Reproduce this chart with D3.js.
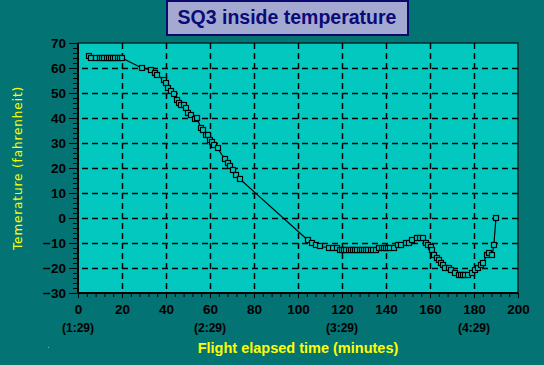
<!DOCTYPE html>
<html>
<head>
<meta charset="utf-8">
<script src="https://cdn.jsdelivr.net/npm/d3@7"></script>
<style>
  body { margin: 0; background: #037373; }
  svg { display: block; }
</style>
</head>
<body>
<script>
// flight elapsed time (minutes) and inside temperature (F)
var minutes = [5, 6, 8, 10, 11, 12, 13, 14, 15, 16, 17, 18, 19, 20,
  29, 33, 35, 36, 39, 40, 41, 42.3, 43.5, 45, 45.8, 46.7, 48, 49.1, 49.8, 51.5, 53.2, 54, 55.9, 56.8, 58.2, 59.3, 60.1, 60.7, 61.9, 63.5, 66.7, 68, 69.2, 70.4, 71.7, 73.7,
  104.4, 106.3, 108.2, 110, 114.3, 116, 117.5, 119, 120, 121, 122, 123, 124, 125, 126, 127, 128, 129, 130, 131, 132, 133, 134, 135.5,
  137, 138, 139, 140, 141, 142, 143.5, 145.5, 147, 149, 150.5, 152, 154, 155.3, 156.7, 158, 159.2, 160.3, 161, 161.8, 163, 164, 165, 166, 167, 168.5, 169.6, 171.4, 173, 174, 175, 176, 177.5,
  179.3, 180.3, 181.8, 183.1, 184.1, 185.9, 186.9, 188.3, 189, 190];
var tempF = [65, 64, 64, 64, 64, 64, 64, 64, 64, 64, 64, 64, 64, 64,
  60, 59.3, 58, 57.2, 55.2, 53.9, 52, 50.9, 49.6, 47.2, 46.1, 45.2, 45.2, 43.9, 42.1, 41.2, 39.4, 40, 36.1, 35.2, 33.3, 33.3, 31.4, 30.5, 29.4, 27.9, 23.5, 22, 21, 19.3, 17.4, 15.5,
  -8.8, -9.9, -10.8, -11.4, -11.9, -11.9, -11.9, -12.8, -12.8, -12.8, -12.8, -12.8, -12.8, -12.8, -12.8, -12.8, -12.8, -12.8, -12.8, -12.8, -12.8, -12.8, -12.8, -12.8,
  -11.9, -11.9, -11.9, -11.9, -11.9, -11.9, -11.9, -10.8, -10.8, -9.9, -9.9, -8.8, -7.9, -7.9, -7.9, -9.9, -10.8, -11.6, -12.8, -14.8, -15.9, -16.8, -17.9, -18.9, -19.9, -19.9, -20.8, -21.9, -22.8, -22.8, -22.8, -22.8, -22.8,
  -21.9, -20.8, -19.9, -18.8, -17.9, -14.8, -14.1, -14.8, -10.8, 0];

var xTicks = [0, 20, 40, 60, 80, 100, 120, 140, 160, 180, 200];
var clockTicks = [[0, "(1:29)"], [60, "(2:29)"], [120, "(3:29)"], [180, "(4:29)"]];
var yTicks = [-30, -20, -10, 0, 10, 20, 30, 40, 50, 60, 70];

var width = 544, height = 365;
var plotFill = "#03c8c0";

var svg = d3.select("body").append("svg")
  .attr("width", width)
  .attr("height", height);

var x = d3.scaleLinear().domain([0, 200]).range([78, 518]);
var y = d3.scaleLinear().domain([-30, 70]).range([293, 43]);

// plot background
svg.append("rect")
  .attr("x", x(0)).attr("y", y(70))
  .attr("width", x(200) - x(0)).attr("height", y(-30) - y(70))
  .style("fill", plotFill)
  .style("stroke", "#0a2a2a")
  .style("stroke-width", 1.5);

// dashed grid
svg.append("g").selectAll("line")
  .data(xTicks.slice(1, -1))
  .enter().append("line")
  .attr("x1", function(d) { return Math.round(x(d)) + 0.5; })
  .attr("x2", function(d) { return Math.round(x(d)) + 0.5; })
  .attr("y1", y(70)).attr("y2", y(-30))
  .style("stroke", "#000").style("stroke-width", 1.5)
  .style("stroke-dasharray", "6,4");

svg.append("g").selectAll("line")
  .data(yTicks.slice(1, -1))
  .enter().append("line")
  .attr("y1", function(d) { return Math.round(y(d)) + 0.5; })
  .attr("y2", function(d) { return Math.round(y(d)) + 0.5; })
  .attr("x1", x(0) + 4).attr("x2", x(200))
  .style("stroke", "#000").style("stroke-width", 1.5)
  .style("stroke-dasharray", "6,4");

// axes
var yMinor = d3.range(-30, 71, 2);
svg.append("g")
  .attr("transform", "translate(" + x(0) + ",0)")
  .call(d3.axisLeft(y).tickValues(yMinor).tickSize(5).tickFormat(""))
  .call(function(g) { g.select(".domain").remove(); });
var yAxis = svg.append("g")
  .attr("transform", "translate(" + x(0) + ",0)")
  .call(d3.axisLeft(y).tickValues(yTicks).tickSize(9).tickPadding(3));
yAxis.select(".domain").remove();
yAxis.selectAll("text")
  .style("font", "bold 13.5px 'Liberation Sans', Arial, sans-serif")
  .style("fill", "#000");
svg.append("line")
  .attr("x1", x(0)).attr("x2", x(0))
  .attr("y1", y(70)).attr("y2", y(-30) + 1)
  .style("stroke", "#000").style("stroke-width", 2);

var xMinor = d3.range(0, 201, 4);
svg.append("g")
  .attr("transform", "translate(0," + y(-30) + ")")
  .call(d3.axisBottom(x).tickValues(xMinor).tickSize(4).tickFormat(""))
  .call(function(g) { g.select(".domain").remove(); });
var xAxis = svg.append("g")
  .attr("transform", "translate(0," + y(-30) + ")")
  .call(d3.axisBottom(x).tickValues(xTicks).tickSize(5).tickPadding(6));
xAxis.select(".domain").remove();
xAxis.selectAll("text")
  .style("font", "bold 13.5px 'Liberation Sans', Arial, sans-serif")
  .style("fill", "#000");
svg.append("line")
  .attr("x1", x(0) - 1).attr("x2", x(200))
  .attr("y1", y(-30)).attr("y2", y(-30))
  .style("stroke", "#000").style("stroke-width", 2);

svg.append("g").selectAll("text")
  .data(clockTicks)
  .enter().append("text")
  .attr("x", function(d) { return x(d[0]); })
  .attr("y", 332)
  .attr("text-anchor", "middle")
  .style("font", "bold 12px 'Liberation Sans', Arial, sans-serif")
  .style("fill", "#000")
  .text(function(d) { return d[1]; });

// axis titles
svg.append("text")
  .attr("x", 298).attr("y", 353)
  .attr("text-anchor", "middle")
  .style("font", "bold 14.5px 'Liberation Sans', Arial, sans-serif")
  .style("fill", "#ffff00")
  .text("Flight elapsed time (minutes)");

svg.append("text")
  .attr("transform", "translate(22,168) rotate(-90)")
  .attr("text-anchor", "middle")
  .style("font", "12px 'DejaVu Sans', sans-serif")
  .style("letter-spacing", "0.9px")
  .style("fill", "#ffff00")
  .text("Temerature (fahrenheit)");

// data line and markers
var pts = minutes.map(function(t, i) { return [t, tempF[i]]; });
var line = d3.line()
  .x(function(d) { return x(d[0]); })
  .y(function(d) { return y(d[1]); });

svg.append("path")
  .datum(pts)
  .attr("d", line)
  .style("fill", "none")
  .style("stroke", "#000")
  .style("stroke-width", 1.2);

svg.append("g").selectAll("rect")
  .data(pts)
  .enter().append("rect")
  .attr("x", function(d) { return Math.round(x(d[0])) - 2.5; })
  .attr("y", function(d) { return Math.round(y(d[1])) - 2.5; })
  .attr("width", 5).attr("height", 5)
  .style("fill", plotFill)
  .style("stroke", "#000")
  .style("stroke-width", 1.2);

// title box
svg.append("rect")
  .attr("x", 167).attr("y", 1)
  .attr("width", 241).attr("height", 34)
  .style("fill", "#a3a9d1")
  .style("stroke", "#0a0a6e")
  .style("stroke-width", 2);
svg.append("text")
  .attr("x", 287).attr("y", 24)
  .attr("text-anchor", "middle")
  .style("font", "bold 19.5px 'Liberation Sans', Arial, sans-serif")
  .style("fill", "#0a0a78")
  .text("SQ3 inside temperature");

svg.append("rect")
  .attr("x", 48).attr("y", 347).attr("width", 1).attr("height", 1)
  .style("fill", "#9ad");
</script>
</body>
</html>
